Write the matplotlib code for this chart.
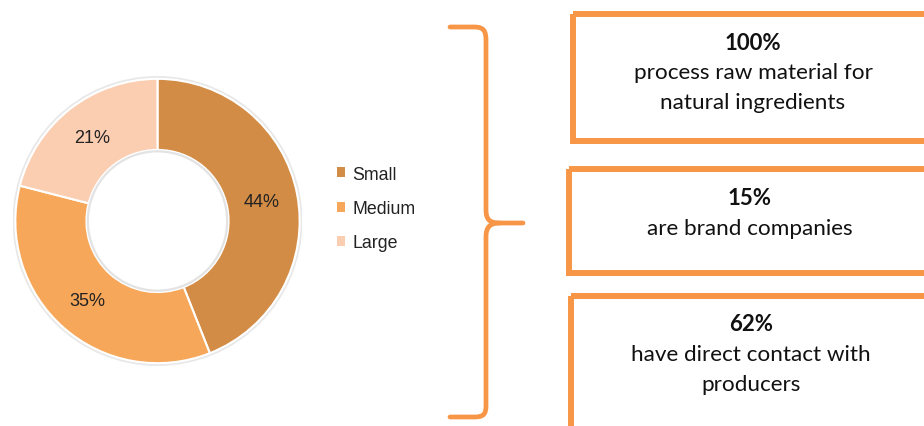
import matplotlib
matplotlib.use("Agg")
import matplotlib.pyplot as plt
from matplotlib.patches import Rectangle, Patch, Circle, PathPatch
from matplotlib.path import Path

# Company size split
sizes = ["Small", "Medium", "Large"]
shares = [44, 35, 21]
size_colors = ["#D38C45", "#F7A759", "#FBCDB1"]

# Key facts shown in the boxes
fact_values = ["100%", "15%", "62%"]
fact_texts = ["process raw material for\nnatural ingredients",
              "are brand companies",
              "have direct contact with\nproducers"]

ORANGE = "#F79646"
W, H = 924, 427
fig = plt.figure(figsize=(W / 100, H / 100), dpi=100)
fig.patch.set_facecolor("white")

# --- donut ---------------------------------------------------------------
cx, cy, r = 157.5, 222, 145
pie_ax = fig.add_axes([(cx - r) / W, (H - cy - r) / H, 2 * r / W, 2 * r / H])
pie_ax.add_patch(Circle((0, 0), 1.012, facecolor="none", edgecolor="#e8e8e8", lw=1.6, zorder=0))
wedges, _, autotexts = pie_ax.pie(
    shares, colors=size_colors, startangle=90, counterclock=False,
    autopct=lambda p: f"{p:.0f}%", pctdistance=0.745, radius=1,
    wedgeprops=dict(width=0.5, edgecolor="white", linewidth=1.5),
    textprops=dict(fontsize=13, color="#222222", family="Liberation Sans"))
pie_ax.add_patch(Circle((0, 0), 0.49, facecolor="none", edgecolor="#e3e3e3", lw=1.6, zorder=5))
pie_ax.set_xlim(-1.02, 1.02)
pie_ax.set_ylim(-1.02, 1.02)
pie_ax.set_aspect("equal")
pie_ax.axis("off")

handles = [Patch(facecolor=c, edgecolor="none") for c in size_colors]
fig.legend(handles, sizes, loc="center left",
           bbox_to_anchor=(337 / W, 1 - 209.5 / H), frameon=False,
           prop=dict(family="Liberation Sans", size=12.8),
           labelcolor="#222222", handlelength=0.46, handleheight=0.46,
           handletextpad=0.4, labelspacing=0.98, borderpad=0, borderaxespad=0)

# --- brace and fact boxes -----------------------------------------------
ov = fig.add_axes([0, 0, 1, 1])
ov.set_xlim(0, W)
ov.set_ylim(H, 0)
ov.axis("off")

verts = [(450, 28), (474, 28), (484, 28), (486, 32), (486, 42), (486, 211),
         (486, 221), (490, 224), (500, 224), (523, 224)]
codes = [Path.MOVETO, Path.LINETO, Path.CURVE4, Path.CURVE4, Path.CURVE4, Path.LINETO,
         Path.CURVE4, Path.CURVE4, Path.CURVE4, Path.LINETO]
ov.add_patch(PathPatch(Path(verts, codes), facecolor="none", edgecolor=ORANGE,
                       lw=3.4, capstyle="round", joinstyle="round"))
verts = [(500, 224), (490, 224), (486, 228), (486, 238), (486, 406),
         (486, 415), (484, 418), (474, 418), (450, 418)]
codes = [Path.MOVETO, Path.CURVE4, Path.CURVE4, Path.CURVE4, Path.LINETO,
         Path.CURVE4, Path.CURVE4, Path.CURVE4, Path.LINETO]
ov.add_patch(PathPatch(Path(verts, codes), facecolor="none", edgecolor=ORANGE,
                       lw=3.4, capstyle="round", joinstyle="round"))

# box outlines: (left, top, bottom) of the stroke centre line
boxes = [(573, 15, 142), (569, 170, 274), (571, 297, 460)]
for left, top, bottom in boxes:
    ov.add_patch(Rectangle((left, top), 960 - left, bottom - top, facecolor="none",
                           edgecolor=ORANGE, lw=4.3, clip_on=True))

text_font = dict(family="Lato", color="#111111", ha="center", va="center")
value_y = [43, 199, 325]
text_x = [753, 750, 751]
for val, txt, x, y in zip(fact_values, fact_texts, text_x, value_y):
    ov.text(x, y, val, fontsize=16, fontweight="bold", **text_font)
    for i, line in enumerate(txt.split("\n")):
        ov.text(x, y + 30 * (i + 1), line, fontsize=16.2, **text_font)

fig.savefig("out.png", dpi=100, facecolor="white")
